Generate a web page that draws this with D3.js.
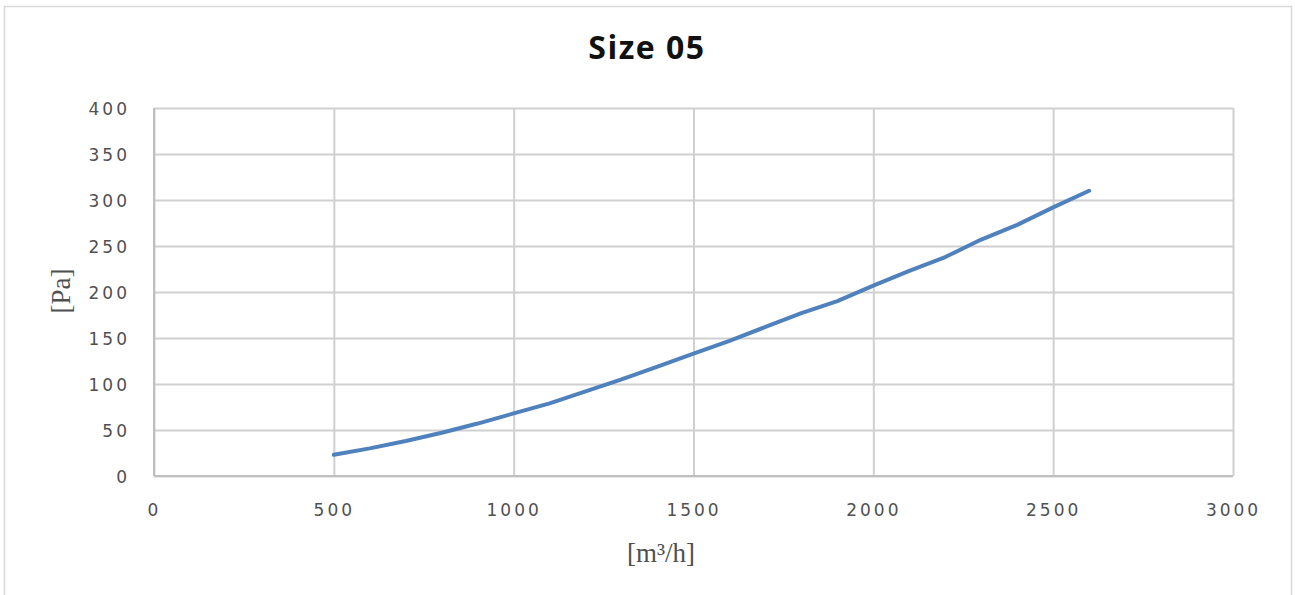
<!DOCTYPE html>
<html>
<head>
<meta charset="utf-8">
<script src="https://cdn.jsdelivr.net/npm/d3@7"></script>
<style>
  html, body { margin: 0; padding: 0; background: #fff; }
  svg { display: block; }
</style>
</head>
<body>
<svg id="chart" width="1295" height="595"></svg>
<script>
const titleText = "Size 05";
const xLabel = "[m³/h]";
const yLabel = "[Pa]";
const xTicks = [0, 500, 1000, 1500, 2000, 2500, 3000];
const yTicks = [0, 50, 100, 150, 200, 250, 300, 350, 400];
const flow = [500, 600, 700, 800, 900, 1000, 1100, 1200, 1300, 1400, 1500, 1600, 1700, 1800, 1900, 2000, 2100, 2200, 2300, 2400, 2500, 2600];
const pressure = [23, 30, 38, 47, 57, 68, 79, 92, 105, 119, 133, 147, 162, 177, 190, 207, 223, 238, 257, 273, 292, 310];

const svg = d3.select("#chart");
const plot = { left: 154, right: 1233, top: 108, bottom: 476 };

// outer chart border
svg.append("rect")
  .attr("x", 4.5).attr("y", 6.5)
  .attr("width", 1287).attr("height", 600)
  .attr("fill", "#fff").attr("stroke", "#d9d9d9").attr("stroke-width", 1.5);

const x = d3.scaleLinear().domain([0, 3000]).range([plot.left, plot.right]);
const y = d3.scaleLinear().domain([0, 400]).range([plot.bottom, plot.top]);

const gridColor = "#d0d0d0";

// gridlines
const gx = svg.append("g").attr("transform", `translate(0,${plot.bottom})`)
  .call(d3.axisBottom(x).tickValues(xTicks).tickSize(-(plot.bottom - plot.top)).tickFormat(""));
gx.select(".domain").remove();
gx.selectAll("line").attr("stroke", gridColor).attr("stroke-width", 2);

const gy = svg.append("g").attr("transform", `translate(${plot.left},0)`)
  .call(d3.axisLeft(y).tickValues(yTicks).tickSize(-(plot.right - plot.left)).tickFormat(""));
gy.select(".domain").remove();
gy.selectAll("line").attr("stroke", gridColor).attr("stroke-width", 2);

// plot area axis lines
svg.append("line").attr("x1", plot.left).attr("x2", plot.left)
  .attr("y1", plot.top).attr("y2", plot.bottom)
  .attr("stroke", "#bfbfbf").attr("stroke-width", 2);
svg.append("line").attr("x1", plot.left).attr("x2", plot.right)
  .attr("y1", plot.bottom).attr("y2", plot.bottom)
  .attr("stroke", "#bfbfbf").attr("stroke-width", 2);

// tick labels
const tickFont = "'DejaVu Sans', sans-serif";
const xAxisLabels = svg.append("g").attr("transform", `translate(0,${plot.bottom})`)
  .call(d3.axisBottom(x).tickValues(xTicks).tickSize(0).tickPadding(0).tickFormat(d3.format("d")));
xAxisLabels.select(".domain").remove();
xAxisLabels.selectAll("text")
  .attr("y", 40).attr("dy", 0)
  .attr("font-family", tickFont).attr("font-size", 17)
  .attr("letter-spacing", "3px")
  .attr("fill", "#505050");

const yAxisLabels = svg.append("g").attr("transform", `translate(${plot.left},0)`)
  .call(d3.axisLeft(y).tickValues(yTicks).tickSize(0).tickPadding(0).tickFormat(d3.format("d")));
yAxisLabels.select(".domain").remove();
yAxisLabels.selectAll("text")
  .attr("x", -24).attr("dy", "0.36em")
  .attr("font-family", tickFont).attr("font-size", 17)
  .attr("letter-spacing", "3px")
  .attr("fill", "#505050");

// data line
const data = flow.map((f, i) => [f, pressure[i]]);
svg.append("path")
  .datum(data)
  .attr("fill", "none")
  .attr("stroke", "#4f81bd")
  .attr("stroke-width", 4)
  .attr("stroke-linejoin", "round")
  .attr("stroke-linecap", "round")
  .attr("d", d3.line().x(d => x(d[0])).y(d => y(d[1])));

// title
svg.append("text")
  .attr("x", 647).attr("y", 59)
  .attr("text-anchor", "middle")
  .attr("font-family", "'Open Sans', sans-serif")
  .attr("font-weight", "bold")
  .attr("font-size", 32)
  .attr("letter-spacing", "1.5px")
  .attr("fill", "#111")
  .text(titleText);

// axis titles
svg.append("text")
  .attr("x", 661).attr("y", 562)
  .attr("text-anchor", "middle")
  .attr("font-family", "'Liberation Serif', serif")
  .attr("font-size", 27)
  .attr("fill", "#505050")
  .text(xLabel);

svg.append("text")
  .attr("transform", "translate(70,291) rotate(-90)")
  .attr("text-anchor", "middle")
  .attr("font-family", "'Liberation Serif', serif")
  .attr("font-size", 27)
  .attr("fill", "#505050")
  .text(yLabel);
</script>
</body>
</html>
